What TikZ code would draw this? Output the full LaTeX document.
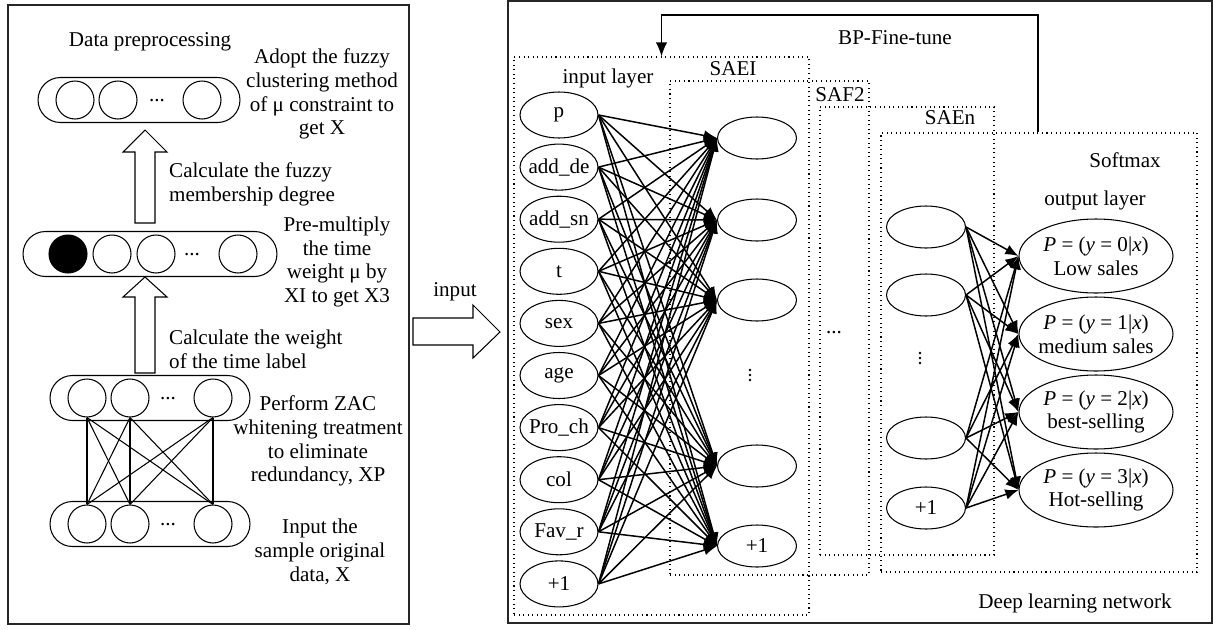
\documentclass[tikz,border=0pt]{standalone}
\usepackage{fontspec}
\setmainfont{Liberation Serif}
\usetikzlibrary{arrows.meta,shapes.geometric,shapes.misc,fit}

\tikzset{
  panel/.style={draw=black!85, line width=0.9pt},
  grp/.style={draw, dotted, line width=0.6pt, inner sep=0pt},
  capsule/.style={rounded rectangle, draw, line width=0.6pt, minimum width=#1, minimum height=0.9cm, inner sep=0pt},
  unit/.style={circle, draw, line width=0.6pt, minimum size=0.76cm, inner sep=0pt},
  feat/.style={ellipse, draw, line width=0.6pt, minimum width=1.56cm, minimum height=0.92cm, inner sep=0pt},
  hid/.style={ellipse, draw, line width=0.6pt, minimum width=1.58cm, minimum height=0.84cm, inner sep=0pt},
  outu/.style={ellipse, draw, line width=0.6pt, minimum width=3.08cm, minimum height=1.48cm, inner sep=0pt, align=center},
  wire/.style={line width=0.85pt, -{Latex[length=7.5pt,width=6pt]}},
  hollow/.style={draw, line width=0.6pt, fill=white},
}
% fat arrow pointing up: tail, shaft length, head length
\newcommand{\fatup}[3]{\draw[hollow] (#1) ++(-10,0) -- ++(0,-#2) -- ++(-12,0) -- ++(22,-#3)
  -- ++(22,#3) -- ++(-12,0) -- ++(0,#2) -- cycle;}
% three dots stacked
\newcommand{\vdotsat}[1]{\foreach \dd in {-5,0,5} \fill (#1) ++(0,\dd) circle (1.3);}

\begin{document}
\begin{tikzpicture}[x=0.02cm,y=-0.02cm,font=\fontsize{12}{13.6}\selectfont]
\useasboundingbox (0,0) rectangle (1213,629);

%% preprocessing panel
\draw[panel] (8,5) rectangle (409,624);
\node (dpre) at (150,42) {Data preprocessing};

\node[capsule=4.04cm] (cap1) at (139,100) {};
\node[unit] (c1a) at (75,100) {};
\node[unit] (c1b) at (118,100) {};
\node[unit] (c1c) at (202,100) {};
\node (d1) at (157,101) {...};
\node[align=center] (t1) at (322,94) {Adopt the fuzzy\\clustering method\\of μ constraint to\\get X};

\coordinate (up1) at (145,223);
\fatup{up1}{71}{22}
\node[align=left,anchor=west] (t2) at (163,184) {Calculate the fuzzy\\membership degree};

\node[capsule=5.08cm] (cap2) at (150,254) {};
\node[unit,fill=black] (c2a) at (68,254) {};
\node[unit] (c2b) at (112,254) {};
\node[unit] (c2c) at (156,254) {};
\node (d2) at (192,255) {...};
\node[unit] (c2d) at (238,254) {};
\node[align=center] (t3) at (337,262) {Pre-multiply\\the time\\weight μ by\\XI to get X3};

\coordinate (up2) at (145,373);
\fatup{up2}{76}{20}
\node[align=left,anchor=west] (t4) at (163,349) {Calculate the weight\\of the time label};

\node[capsule=4cm] (cap3) at (150,398) {};
\node[unit] (c3a) at (87,398) {};
\node[unit] (c3b) at (130,398) {};
\node[unit] (c3c) at (213,398) {};
\node (d3) at (168,399) {...};
\node[align=center] (t5) at (318,441) {Perform ZAC\\whitening treatment\\to eliminate\\redundancy, XP};

\node[capsule=4cm] (cap4) at (150,524) {};
\node[unit] (c4a) at (87,524) {};
\node[unit] (c4b) at (130,524) {};
\node[unit] (c4c) at (213,524) {};
\node (d4) at (168,525) {...};
\node[align=center] (t6) at (320,552) {Input the\\sample original\\data, X};

\foreach \ia in {a,b,c}
  \foreach \ib in {a,b,c}
    \draw[line width=0.6pt] (c4\ia.north) -- (c3\ib.south);

%% hand-over
\node (inp) at (455,292) {input};
\coordinate (inarr) at (413,318);
\draw[hollow] (inarr) -- ++(60,0) -- ++(0,-13) -- ++(27,27) -- ++(-27,26) -- ++(0,-13) -- ++(-60,0) -- cycle;

%% deep learning panel
\draw[panel] (508,1) rectangle (1212,623);
\node[grp, fit={(514,57) (809,615)}] (inlay) {};
\node[grp, fit={(670,81) (869,575)}] (sae1) {};
\node[grp, fit={(820,107) (994,555)}] (saf2) {};
\node[grp, fit={(881,133) (1197,572)}] (saen) {};

\node (linp) at (608,78) {input layer};
\node (lsae1) at (733,69) {SAEI};
\node (lsaf2) at (840,95) {SAF2};
\node (lsaen) at (950,118) {SAEn};
\node (lsoft) at (1125,160) {Softmax};
\node (lout) at (1095,200) {output layer};
\node (lbp) at (895,38) {BP-Fine-tune};
\node (ldeep) at (1075,603) {Deep learning network};

\coordinate (bp) at (1038,15);
\draw[line width=0.9pt,-{Latex[length=8pt,width=6.5pt]}] (saen.north -| bp) -- (bp) -| (inlay.north);

\foreach \t [count=\i from 0] in {p,add\_de,add\_sn,t,sex,age,Pro\_ch,col,Fav\_r,+1}
  \node[feat] (in\i) at (559,{115+52.1*\i}) {\makebox[0pt]{\t}};

\node[hid] (h1) at (757,138) {};
\node[hid] (h2) at (757,220) {};
\node[hid] (h3) at (757,300) {};
\vdotsat{750,375}
\node[hid] (h4) at (757,466) {};
\node[hid] (h5) at (757,546) {+1};

\node (sdots) at (834,333) {...};

\node[hid] (s1) at (926,227) {};
\node[hid] (s2) at (926,295) {};
\vdotsat{920,358}
\node[hid] (s3) at (926,438) {};
\node[hid] (s4) at (926,508) {+1};

\foreach \k/\lab [count=\n] in {0/Low sales,1/medium sales,2/best-selling,3/Hot-selling}
  \node[outu] (o\n) at (1096,{256+78*(\n-1)})
    {\makebox[0pt]{\textit{P} = (\textit{y} = \k|\textit{x})}\\\makebox[0pt]{\lab}};

\foreach \i in {0,...,9}
  \foreach \j in {1,...,5}
    \draw[wire] (in\i.east) -- (h\j.west);
\foreach \i in {1,...,4}
  \foreach \j in {1,...,4}
    \draw[wire] (s\i.east) -- (o\j.west);
\end{tikzpicture}
\end{document}
